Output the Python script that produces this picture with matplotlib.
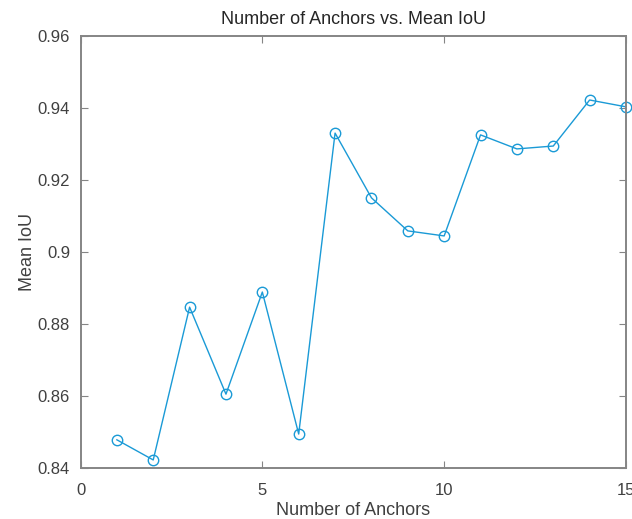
import matplotlib
matplotlib.use("Agg")
import matplotlib.pyplot as plt

anchors = [1, 2, 3, 4, 5, 6, 7, 8, 9, 10, 11, 12, 13, 14, 15]
mean_iou = [0.8477, 0.8421, 0.8846, 0.8604, 0.8888, 0.8493, 0.9330, 0.9150,
            0.9058, 0.9044, 0.9325, 0.9286, 0.9294, 0.9422, 0.9403]
xticks = [0, 5, 10, 15]
yticks = [0.84, 0.86, 0.88, 0.90, 0.92, 0.94, 0.96]
ytick_labels = ["0.84", "0.86", "0.88", "0.9", "0.92", "0.94", "0.96"]

plt.rcParams['font.family'] = ['Liberation Sans', 'DejaVu Sans']
txt = '#404040'
axc = '#858585'

fig = plt.figure(figsize=(6.32, 5.19), dpi=100)
ax = fig.add_axes([80.5/632, 1-467.5/519, (626-80.5)/632, (467.5-36)/519])
ax.plot(anchors, mean_iou, color='#1a9ad6', lw=1.0, marker='o', ms=7.5,
        mfc='none', mec='#1a9ad6', mew=1.0, clip_on=False)
ax.set_xlim(0, 15)
ax.set_ylim(0.84, 0.96)
ax.set_xticks(xticks)
ax.set_yticks(yticks)
ax.set_yticklabels(ytick_labels)
ax.tick_params(direction='in', length=5, width=0.8, color=axc, labelcolor=txt,
               labelsize=12, top=True, right=True)
ax.tick_params(axis='x', pad=11)
ax.tick_params(axis='y', pad=7.5)
for s in ax.spines.values():
    s.set_color(axc)
    s.set_linewidth(1.4)
ax.set_xlabel('Number of Anchors', fontsize=13, color=txt, labelpad=3)
ax.set_ylabel('Mean IoU', fontsize=13, color=txt, labelpad=1)
ax.set_title('Number of Anchors vs. Mean IoU', fontsize=13, color='#262626', pad=9)
fig.savefig('out.png', dpi=100)
